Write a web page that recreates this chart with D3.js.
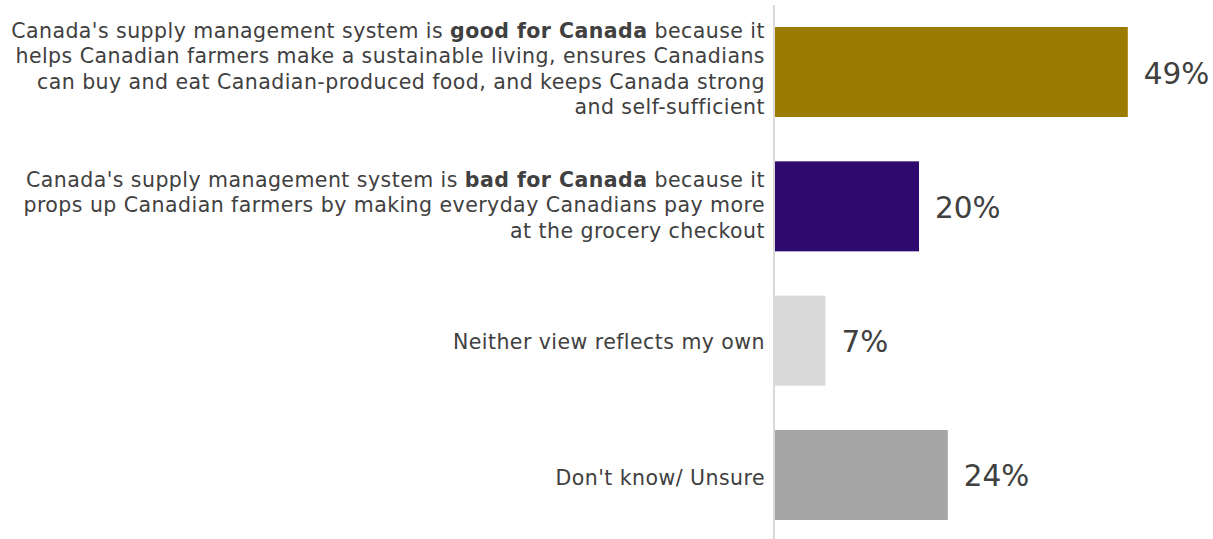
<!DOCTYPE html>
<html><head><meta charset="utf-8">
<script src="https://cdn.jsdelivr.net/npm/d3@7"></script>
<style>body{margin:0;background:#fff}svg{display:block}</style>
</head><body>
<svg id="c" width="1213" height="539"></svg>
<script>
const categories = ["good", "bad", "neither", "unsure"];
const labelLines = [
  [[["Canada's supply management system is ",false],["good for Canada",true],[" because it",false]],
   [["helps Canadian farmers make a sustainable living, ensures Canadians",false]],
   [["can buy and eat Canadian-produced food, and keeps Canada strong",false]],
   [["and self-sufficient",false]]],
  [[["Canada's supply management system is ",false],["bad for Canada",true],[" because it",false]],
   [["props up Canadian farmers by making everyday Canadians pay more",false]],
   [["at the grocery checkout",false]]],
  [[["Neither view reflects my own",false]]],
  [[["Don't know/ Unsure",false]]]
];
const values = [49, 20, 7, 24];
const colors = ["#9C7C00", "#2E0A6E", "#D9D9D9", "#A6A6A6"];

const svg = d3.select("#c");
const x = d3.scaleLinear().domain([0, 100]).range([775, 1495]);
const y = d3.scaleBand().domain(categories).range([27, 520]).paddingInner(0.33);

svg.append("g").selectAll("rect").data(categories).join("rect")
  .attr("x", x(0)).attr("y", d => y(d))
  .attr("width", (d,i) => x(values[i]) - x(0))
  .attr("height", y.bandwidth())
  .attr("fill", (d,i) => colors[i]);

svg.append("line").attr("x1", 774).attr("x2", 774).attr("y1", 5).attr("y2", 539)
  .attr("stroke", "#D9D9D9").attr("stroke-width", 2);

const fs = 20.5, lh = 25.3;
categories.forEach((c, i) => {
  const cy = y(c) + y.bandwidth()/2;
  const lines = labelLines[i];
  const n = lines.length;
  const t = svg.append("text").attr("text-anchor", "end")
    .attr("font-family", "Verdana, 'DejaVu Sans', sans-serif")
    .attr("font-size", fs).attr("fill", "#404040")
    .attr("letter-spacing", "0.45px");
  lines.forEach((segs, j) => {
    const base = cy + (j - (n-1)/2) * lh + 4 + 2*i;
    segs.forEach((s, k) => {
      const ts = t.append("tspan").text(s[0]).attr("font-weight", s[1] ? "bold" : null);
      if (k === 0) ts.attr("x", 765).attr("y", base);
    });
  });
  svg.append("text").attr("x", x(values[i]) + 16).attr("y", cy + 11.5)
    .attr("font-family", "Verdana, 'DejaVu Sans', sans-serif")
    .attr("font-size", 29.5).attr("fill", "#404040")
    .text(values[i] + "%");
});
</script>
</body></html>
